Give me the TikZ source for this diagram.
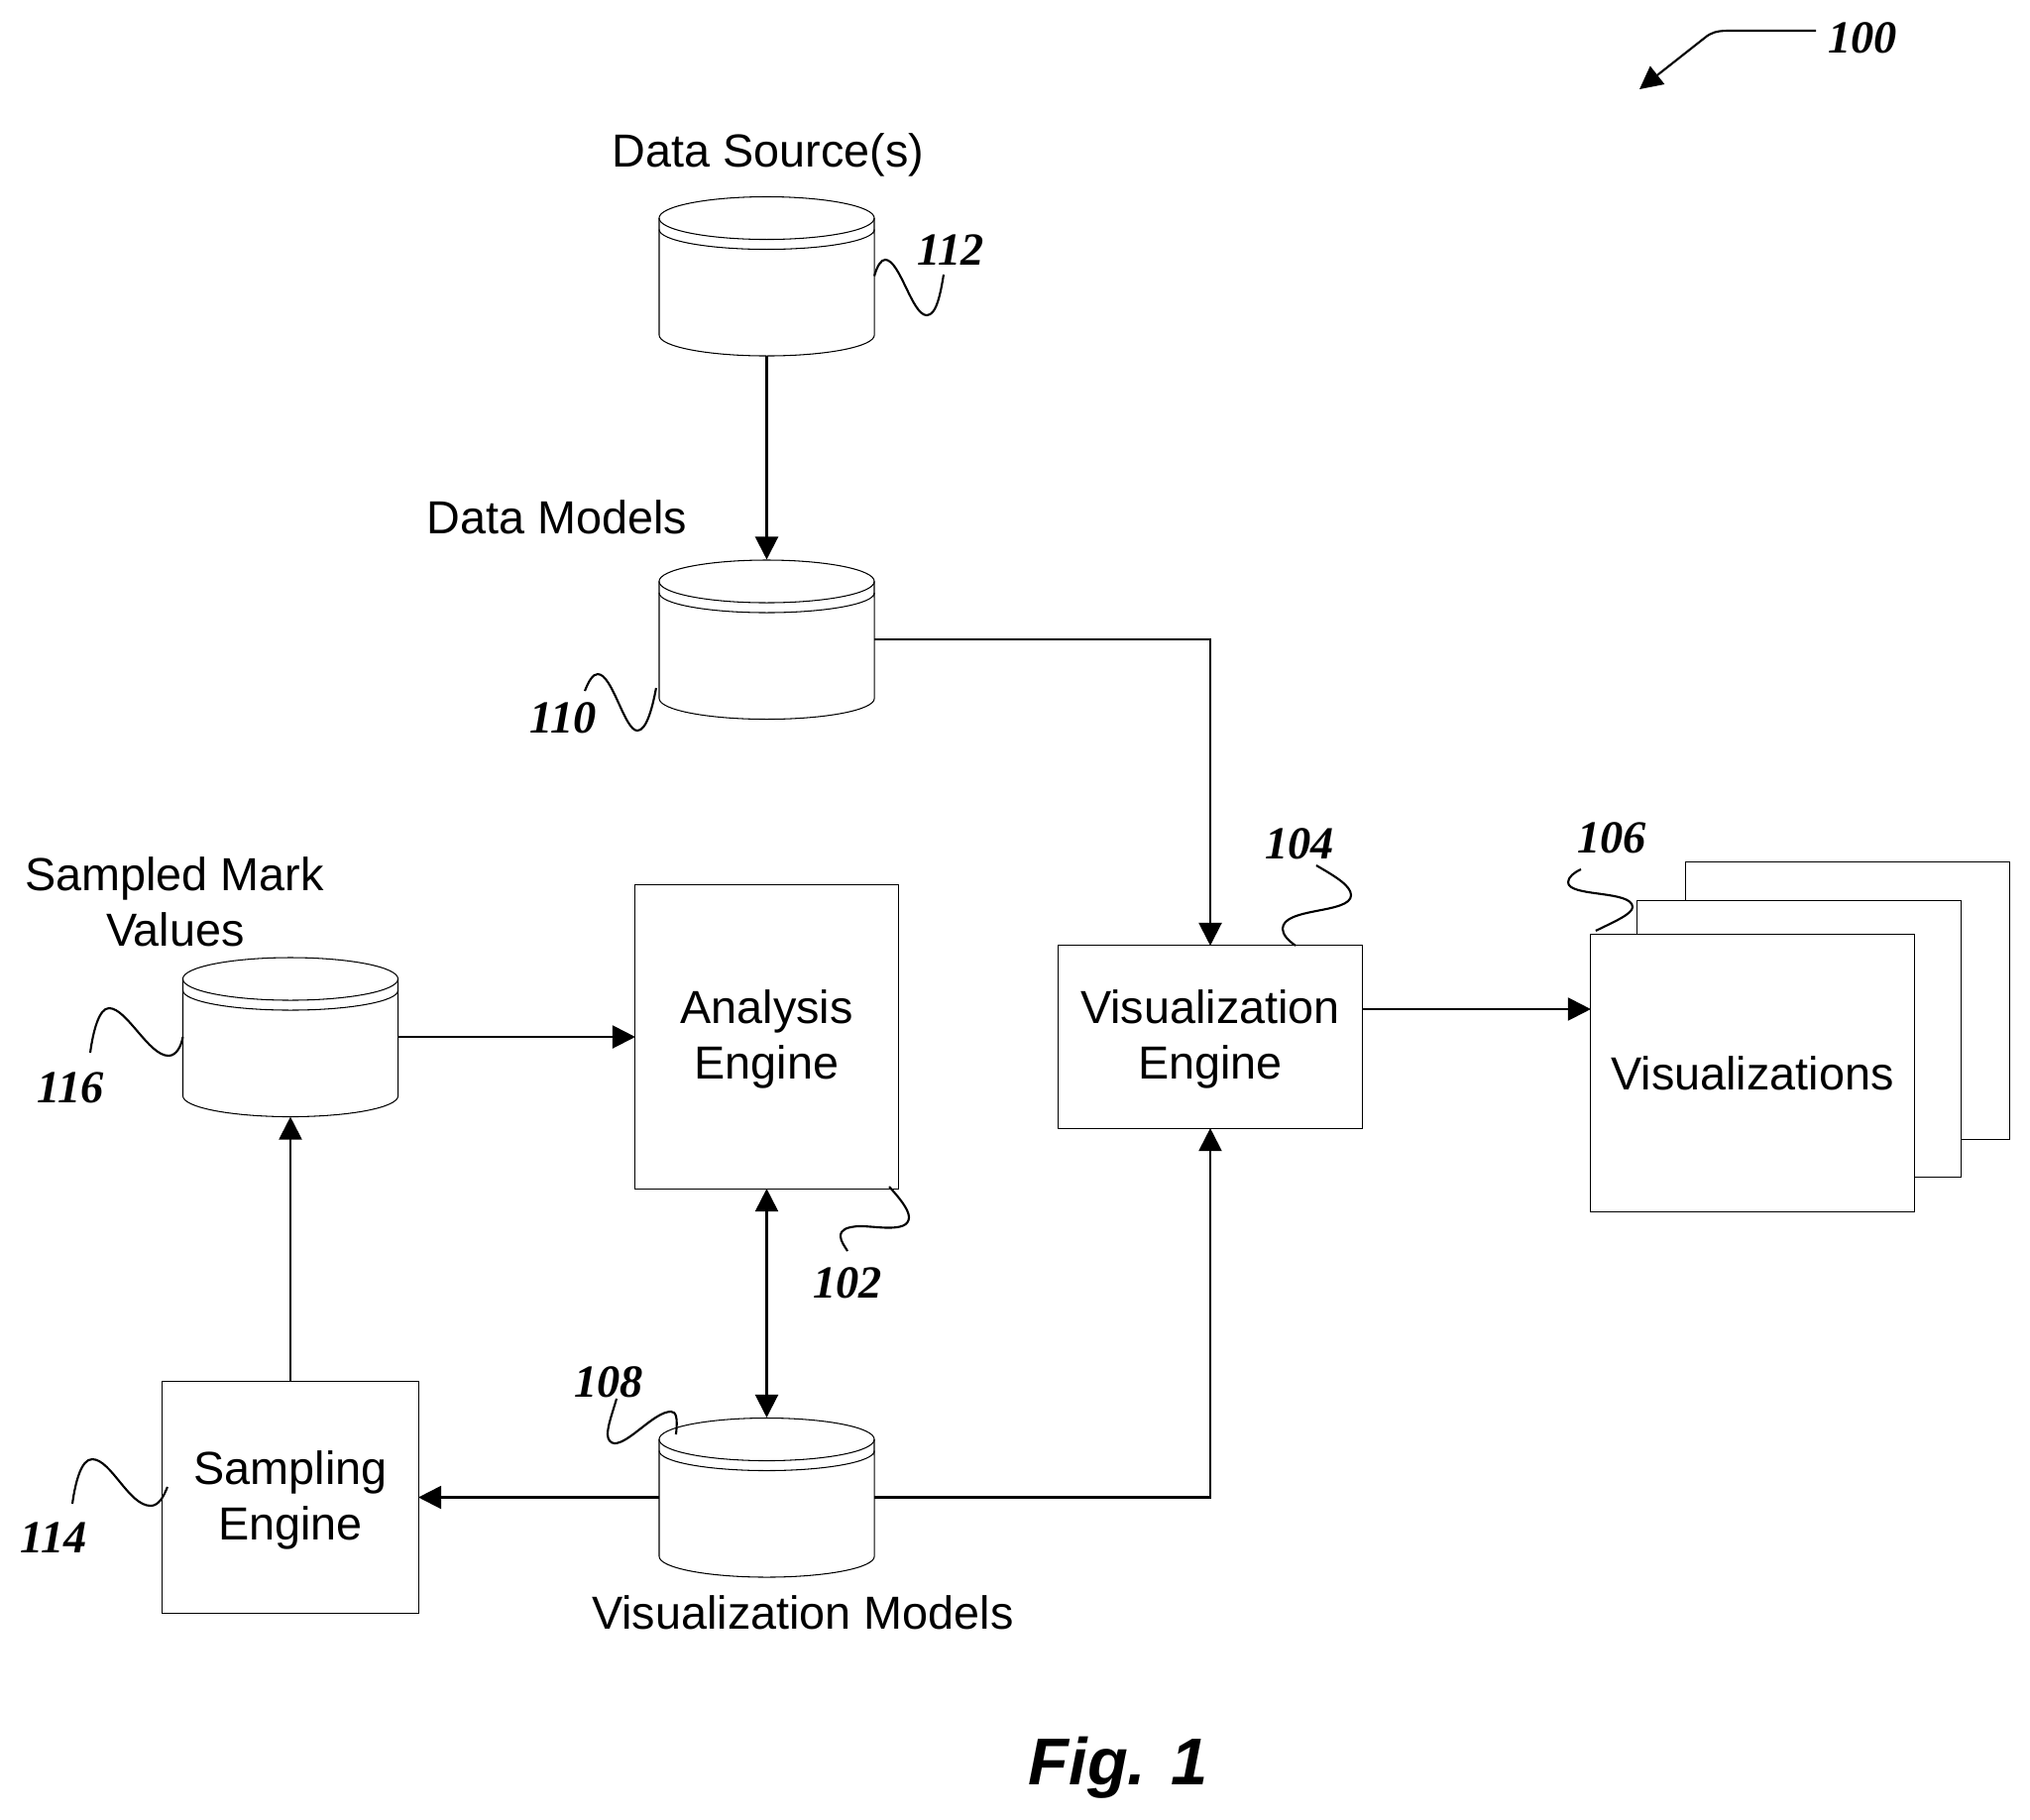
\documentclass[tikz,border=0pt]{standalone}
\usepackage{fontspec}
\setmainfont{Liberation Sans}
\newfontfamily\numfont{Liberation Serif}
\usetikzlibrary{arrows.meta}

\tikzset{
  plain/.style={inner sep=0pt, outer sep=0pt, font=\fontsize{13.3}{15.9}\selectfont, align=center},
  box/.style={plain, draw, line width=.3pt, fill=white},
  engine/.style={box, text height=27.1pt},
  dbbox/.style={plain, minimum width=2.17cm, minimum height=1.61cm},
  dbline/.style={line width=.3pt},
  link/.style={line width=.6pt, -{Triangle[length=.23cm, width=.23cm]}},
  duallink/.style={line width=.6pt, {Triangle[length=.23cm, width=.23cm]}-{Triangle[length=.23cm, width=.23cm]}},
  leader/.style={line width=.6pt},
  refnum/.style={inner sep=0pt, outer sep=0pt, text height=.32cm, text depth=0pt,
    font=\numfont\bfseries\itshape\fontsize{13.2}{15}\selectfont}
}

\begin{document}
\begin{tikzpicture}[x=.01cm, y=-.01cm]

  \useasboundingbox (0,0) rectangle (2048,1835);

  %--------------------------------------------
  % Cylinders: name / center x / center y
  %--------------------------------------------
  \foreach \name/\x/\y in {dsrc/773.5/278.5, dmod/773.5/645, smv/293/1046, vmod/773.5/1510.5}
  {
    \node[dbbox] (\name) at (\x, \y) {};
    \begin{scope}[shift={(\x, \y)}]
      % lid
      \draw[dbline] (0, -58.5) ellipse [x radius=1.085cm, y radius=.215cm];
      % second rim below the lid
      \draw[dbline] (-108.5, -47) arc [start angle=180, end angle=360, x radius=1.085cm, y radius=.2cm];
      % sides and bottom
      \draw[dbline] (-108.5, -58.5) -- (-108.5, 59.5)
      arc [start angle=180, end angle=360, x radius=1.085cm, y radius=.21cm] -- (108.5, -58.5);
    \end{scope}
  }

  %--------------------------------------------
  % Engines
  %--------------------------------------------
  \node[engine, minimum width=2.65cm, minimum height=3.06cm] (ana) at (773.5, 1046) {Analysis\\Engine};
  \node[engine, minimum width=3.06cm, minimum height=1.84cm] (viseng) at (1221, 1046) {Visualization\\Engine};
  \node[engine, minimum width=2.58cm, minimum height=2.33cm] (samp) at (293, 1510.5) {Sampling\\Engine};

  %--------------------------------------------
  % Stack of output sheets, back to front
  %--------------------------------------------
  \foreach \name/\x/\y/\txt in {vis3/1864/1009.5/, vis2/1815/1048/, vis1/1768/1082.5/Visualizations}
  {
    \node[box, minimum width=3.26cm, minimum height=2.79cm] (\name) at (\x, \y) {\txt};
  }

  %--------------------------------------------
  % Captions
  %--------------------------------------------
  \node[plain, anchor=base] (capsrc) at (775, 168) {Data Source(s)};
  \node[plain, anchor=base] (capmod) at (562, 538) {Data Models};
  \node[plain, anchor=base] (capmark) at (176, 898) {Sampled Mark};
  \node[plain, anchor=base] (capval) at (177, 954) {Values};
  \node[plain, anchor=base] (capvis) at (810, 1643) {Visualization Models};
  \node[plain, anchor=base, font=\bfseries\itshape\fontsize{19}{22}\selectfont] (figlab) at (1128, 1800) {Fig. 1};

  %--------------------------------------------
  % Reference numbers
  %--------------------------------------------
  \foreach \x/\y/\num in {1879/37/100, 855/1293/102, 1311/850/104, 1626/844/106,
    614/1393/108, 568/723/110, 959/251/112, 54/1550/114, 71/1096/116}
  {
    \node[refnum] (lab\num) at (\x, \y) {\num};
  }

  %--------------------------------------------
  % Arrows between the blocks
  %--------------------------------------------
  \draw[link] (dsrc.south) -- (dmod.north);
  \draw[link] (dmod.east) -| (viseng.north);
  \draw[link] (vmod.east) -| (viseng.south);
  \draw[link] (vmod.west) -- (samp.east);
  \draw[link] (samp.north) -- (smv.south);
  \draw[link] (smv.east) -- (ana.west);
  \draw[duallink] (ana.south) -- (vmod.north);

  \coordinate (visout) at ([yshift=.28cm]viseng.east);
  \draw[link] (visout) -- (visout -| vis1.west);

  %--------------------------------------------
  % Free end of each leader
  %--------------------------------------------
  \coordinate (c100) at (1832, 31);
  \coordinate (t100) at (1654, 90);
  \coordinate (c102) at (855, 1262);
  \coordinate (c104) at (1328, 873);
  \coordinate (c106) at (1595, 877);
  \coordinate (c108) at (622, 1411);
  \coordinate (c110) at (590, 697);
  \coordinate (c112) at (952, 277);
  \coordinate (c114) at (73, 1517);
  \coordinate (c116) at (91, 1062);

  %--------------------------------------------
  % Wavy leaders
  %--------------------------------------------
  \draw[link] (c100) -- (1743, 31) .. controls (1732, 31) and (1726, 33) .. (1720, 38) -- (t100);

  \draw[leader] ([xshift=-.09cm, yshift=.02cm]ana.south east)
  .. controls (907, 1208) and (917, 1220) .. (917, 1228)
  .. controls (917, 1245) and (880, 1236) .. (865, 1237)
  .. controls (855, 1238) and (848, 1240) .. (848, 1247)
  .. controls (848, 1252) and (852, 1257) .. (c102);

  \draw[leader] (c104)
  .. controls (1345, 883) and (1363, 893) .. (1363, 903)
  .. controls (1363, 922) and (1294, 915) .. (1294, 937)
  .. controls (1294, 943) and (1300, 949) .. ([xshift=.86cm]viseng.north);

  \draw[leader] (c106)
  .. controls (1588, 880) and (1582, 885) .. (1582, 890)
  .. controls (1582, 905) and (1647, 898) .. (1647, 915)
  .. controls (1647, 922) and (1628, 930) .. ([xshift=.05cm, yshift=.04cm]vis1.north west);

  \draw[leader] (c108)
  .. controls (618, 1425) and (613, 1438) .. (613, 1447)
  .. controls (613, 1452) and (616, 1456) .. (620, 1456)
  .. controls (635, 1456) and (660, 1424) .. (677, 1424)
  .. controls (682, 1424) and (684, 1430) .. ([xshift=.17cm, yshift=-.17cm]vmod.north west);

  \draw[leader] (c110)
  .. controls (594, 687) and (598, 680) .. (603, 680)
  .. controls (618, 680) and (630, 737) .. (643, 737)
  .. controls (652, 737) and (658, 715) .. ([xshift=-.03cm, yshift=-.49cm]dmod.west);

  \draw[leader] (dsrc.east)
  .. controls (885, 268) and (889, 262) .. (893, 262)
  .. controls (908, 262) and (920, 318) .. (935, 318)
  .. controls (945, 318) and (949, 295) .. (c112);

  \draw[leader] (c114)
  .. controls (76, 1495) and (82, 1472) .. (93, 1472)
  .. controls (112, 1472) and (130, 1519) .. (152, 1519)
  .. controls (160, 1519) and (165, 1510) .. ([xshift=.05cm, yshift=.105cm]samp.west);

  \draw[leader] (c116)
  .. controls (94, 1040) and (100, 1017) .. (110, 1017)
  .. controls (128, 1017) and (150, 1065) .. (170, 1065)
  .. controls (178, 1065) and (183, 1055) .. (smv.west);

\end{tikzpicture}
\end{document}
